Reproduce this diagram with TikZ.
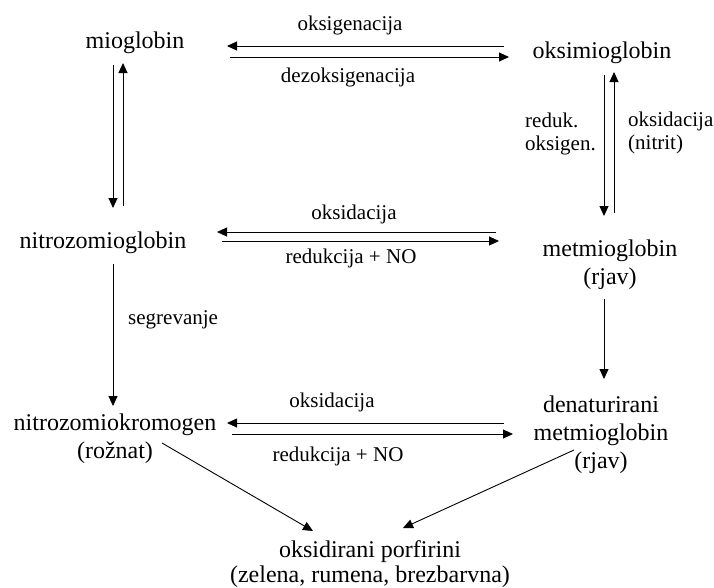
\documentclass[tikz,border=0pt]{standalone}
\usepackage{fontspec}
\setmainfont{Liberation Serif}
\usetikzlibrary{arrows.meta}

\begin{document}
\begin{tikzpicture}[
  x=1pt, y=-1pt,
  >={Triangle[length=10pt,width=9pt]},
  every node/.style={inner sep=0pt},
  state/.style={font=\fontsize{24}{28}\selectfont},
  lbl/.style={font=\fontsize{21}{23}\selectfont},
  arrow/.style={->,line width=0.9pt}
]
  \useasboundingbox (0,0) rectangle (714,587);
  % pigments
  \node[state,anchor=base] (mio) at (135,48) {mioglobin};
  \node[state,anchor=base] (oksi) at (602,58) {oksimioglobin};
  \node[state,anchor=base] (nitro) at (103,248) {nitrozomioglobin};
  \node[state,align=center] (met) at (610,264.4) {metmioglobin\\(rjav)};
  \node[state,align=center] (krom) at (115,438.9) {nitrozomiokromogen\\(rožnat)};
  \node[state,align=center] (denat) at (601,434.4) {denaturirani\\metmioglobin\\(rjav)};
  \node[state,align=center] (porf) at (370,563.9) {oksidirani porfirini\\[-3.5pt](zelena, rumena, brezbarvna)};
  % reaction labels
  \node[lbl,anchor=base] (l-oksig) at (350,30) {oksigenacija};
  \node[lbl,anchor=base] (l-dezoks) at (348,82) {dezoksigenacija};
  \node[lbl,align=left,anchor=west] (l-reduk) at (525,133.5) {reduk.\\oksigen.};
  \node[lbl,align=left,anchor=west] (l-nitrit) at (628,133.2) {oksidacija\\(nitrit)};
  \node[lbl,anchor=base west] (l-segr) at (128,324) {segrevanje};
  \node[lbl,anchor=base] (l-oks1) at (354,219) {oksidacija};
  \node[lbl,anchor=base] (l-red1) at (351,263) {redukcija + NO};
  \node[lbl,anchor=base] (l-oks2) at (332,407) {oksidacija};
  \node[lbl,anchor=base] (l-red2) at (338,461) {redukcija + NO};
  % top pair
  \draw[arrow] ([xshift=-98pt,yshift=12pt]oksi.base) -- ([xshift=92pt,yshift=2pt]mio.base);
  \draw[arrow] ([xshift=95pt,yshift=-9pt]mio.base) -- ([xshift=-93pt,yshift=1pt]oksi.base);
  % left pair
  \draw[arrow] ([xshift=-22pt,yshift=-17pt]mio.base) -- ([xshift=10pt,yshift=40pt]nitro.base);
  \draw[arrow] ([xshift=20pt,yshift=42pt]nitro.base) -- ([xshift=-12pt,yshift=-15pt]mio.base);
  % right pair
  \draw[arrow] ([xshift=2pt,yshift=-17pt]oksi.base) -- ([xshift=-6pt,yshift=48.4pt]met.center);
  \draw[arrow] ([xshift=4pt,yshift=51.4pt]met.center) -- ([xshift=12pt,yshift=-14pt]oksi.base);
  % middle pair
  \draw[arrow] ([xshift=-114pt,yshift=32.4pt]met.center) -- ([xshift=114pt,yshift=16pt]nitro.base);
  \draw[arrow] ([xshift=119pt,yshift=7pt]nitro.base) -- ([xshift=-111pt,yshift=23.4pt]met.center);
  % downward
  \draw[arrow] ([xshift=10pt,yshift=-16pt]nitro.base) -- ([xshift=-2pt,yshift=32.9pt]krom.center);
  \draw[arrow] ([xshift=-6pt,yshift=-34.6pt]met.center) -- ([xshift=3pt,yshift=55.4pt]denat.center);
  % bottom pair
  \draw[arrow] ([xshift=-97pt,yshift=11.4pt]denat.center) -- ([xshift=112pt,yshift=15.9pt]krom.center);
  \draw[arrow] ([xshift=117pt,yshift=4.9pt]krom.center) -- ([xshift=-88pt,yshift=0.4pt]denat.center);
  % to porphyrins
  \draw[arrow] ([xshift=47pt,yshift=-4.1pt]krom.center) -- ([xshift=-57pt,yshift=32.9pt]porf.center);
  \draw[arrow] ([xshift=-27pt,yshift=-15.6pt]denat.center) -- ([xshift=33pt,yshift=35.9pt]porf.center);
\end{tikzpicture}
\end{document}
